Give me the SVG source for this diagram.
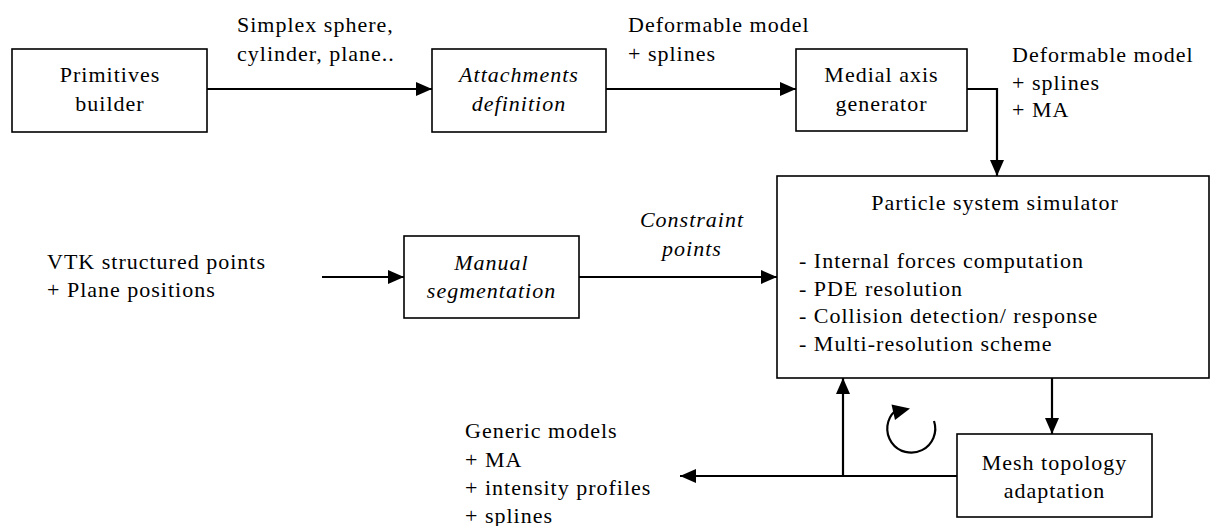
<svg xmlns="http://www.w3.org/2000/svg" width="1211" height="526" viewBox="0 0 1211 526">
  <style>
    text { font-family: "Liberation Serif", "Times New Roman", serif; font-size: 22px; letter-spacing: 1px; fill: #000; }
    .it { font-style: italic; }
    .mid { text-anchor: middle; }
    .box { fill: #fff; stroke: #000; stroke-width: 1.6; }
    .wire { fill: none; stroke: #000; stroke-width: 2.2; }
  </style>
  <defs>
    <marker id="tip" viewBox="0 0 16 14" refX="16" refY="7" markerWidth="16" markerHeight="14" markerUnits="userSpaceOnUse" orient="auto">
      <path d="M0,0 L16,7 L0,14 Z" fill="#000"/>
    </marker>
  </defs>

  <rect width="1211" height="526" fill="#fff"/>

  <!-- connectors -->
  <g id="connectors">
    <path class="wire" d="M207,89 H432" marker-end="url(#tip)"/>
    <path class="wire" d="M606,89 H796" marker-end="url(#tip)"/>
    <path class="wire" d="M967,89 H997 V176" marker-end="url(#tip)"/>
    <path class="wire" d="M322,277 H404" marker-end="url(#tip)"/>
    <path class="wire" d="M579,277 H777" marker-end="url(#tip)"/>
    <path class="wire" d="M1052,378 V434" marker-end="url(#tip)"/>
    <path class="wire" d="M957,476 H680" marker-end="url(#tip)"/>
    <path class="wire" d="M843,476 V378" marker-end="url(#tip)"/>
    <!-- iteration loop -->
    <path class="wire" d="M934,421 A24,24 0 1 1 895,411"/>
    <polygon points="891.5,404.5 910,408.5 895,420" fill="#000"/>
  </g>

  <!-- edge labels -->
  <g id="labels">
    <text x="237" y="32">Simplex sphere,</text>
    <text x="237" y="61">cylinder, plane..</text>
    <text x="628" y="32">Deformable model</text>
    <text x="628" y="61">+ splines</text>
    <text x="1012" y="62">Deformable model</text>
    <text x="1012" y="89.5">+ splines</text>
    <text x="1012" y="117">+ MA</text>
    <text x="47" y="269">VTK structured points</text>
    <text x="47" y="297">+ Plane positions</text>
    <text class="it mid" x="692" y="227">Constraint</text>
    <text class="it mid" x="692" y="256">points</text>
    <text x="465" y="438">Generic models</text>
    <text x="465" y="467">+ MA</text>
    <text x="465" y="495">+ intensity profiles</text>
    <text x="465" y="523">+ splines</text>
  </g>

  <g id="primitives-builder">
    <rect class="box" x="12" y="49" width="195" height="83"/>
    <text class="mid" x="110" y="82">Primitives</text>
    <text class="mid" x="110" y="111">builder</text>
  </g>

  <g id="attachments-definition">
    <rect class="box" x="432" y="49" width="174" height="83"/>
    <text class="it mid" x="519" y="82">Attachments</text>
    <text class="it mid" x="519" y="111">definition</text>
  </g>

  <g id="medial-axis-generator">
    <rect class="box" x="796" y="49" width="171" height="82"/>
    <text class="mid" x="881.5" y="82">Medial axis</text>
    <text class="mid" x="881.5" y="111">generator</text>
  </g>

  <g id="manual-segmentation">
    <rect class="box" x="404" y="236" width="175" height="82"/>
    <text class="it mid" x="491.5" y="270">Manual</text>
    <text class="it mid" x="491.5" y="298">segmentation</text>
  </g>

  <g id="particle-system-simulator">
    <rect class="box" x="777" y="176" width="432" height="202"/>
    <text class="mid" x="995" y="210">Particle system simulator</text>
    <text x="799" y="268">- Internal forces computation</text>
    <text x="799" y="295.5">- PDE resolution</text>
    <text x="799" y="323">- Collision detection/ response</text>
    <text x="799" y="350.5">- Multi-resolution scheme</text>
  </g>

  <g id="mesh-topology-adaptation">
    <rect class="box" x="957" y="434" width="195" height="83"/>
    <text class="mid" x="1054.5" y="470">Mesh topology</text>
    <text class="mid" x="1054.5" y="498">adaptation</text>
  </g>
</svg>
